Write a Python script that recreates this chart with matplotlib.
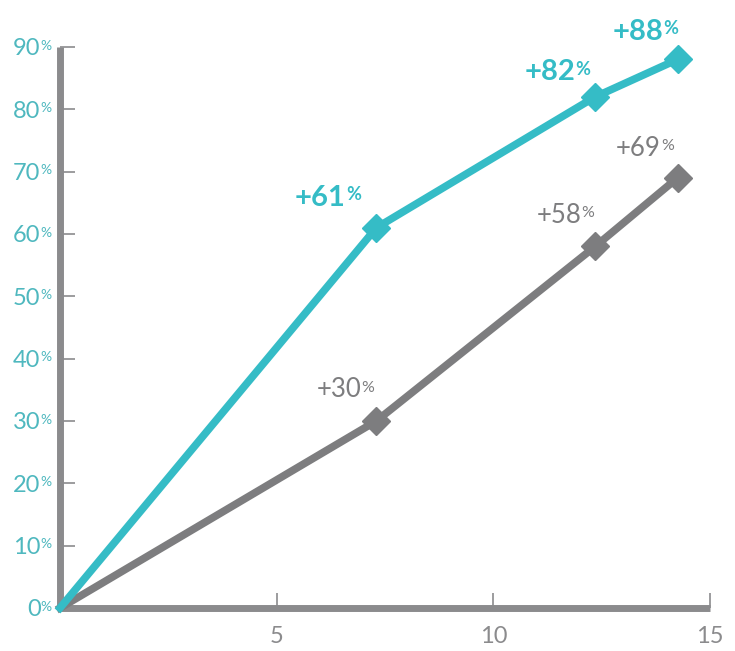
import matplotlib.pyplot as plt

# data
x_vals = [0, 7.3, 12.35, 14.25]
teal_vals = [0, 61, 82, 88]
gray_vals = [0, 30, 58, 69]
teal_labels = ["+61", "+82", "+88"]
gray_labels = ["+30", "+58", "+69"]
y_ticks = [0, 10, 20, 30, 40, 50, 60, 70, 80, 90]
x_ticks = [5, 10, 15]

TEAL = "#35bcc6"
GRAY = "#7d7d7f"
AXIS = "#8b8b8d"
LTEAL = "#4fb8bf"

FONT = "Lato"

fig = plt.figure(figsize=(7.35, 6.51), dpi=100)
ax = fig.add_axes([60 / 735, 43 / 651, 650 / 735, 561 / 651])
ax.set_xlim(0, 15)
ax.set_ylim(0, 90)

for s in ["top", "right"]:
    ax.spines[s].set_visible(False)
for s in ["left", "bottom"]:
    ax.spines[s].set_color(AXIS)
    ax.spines[s].set_linewidth(5)
    ax.spines[s].set_capstyle("butt")

ax.set_yticks(y_ticks)
ax.set_xticks(x_ticks)
ax.tick_params(axis="y", direction="in", length=11, width=1.2, color=AXIS,
               labelleft=False)
ax.tick_params(axis="x", direction="in", length=11, width=1.2, color=AXIS,
               labelbottom=False)

# y tick labels with small percent sign
ytr = ax.get_yaxis_transform()
for v in y_ticks:
    ax.annotate(str(v), (0, v), xycoords=ytr, xytext=(-14, -6),
                textcoords="offset points", ha="right", va="baseline",
                color=LTEAL, fontsize=17, family=FONT,
                annotation_clip=False)
    ax.annotate("%", (0, v), xycoords=ytr, xytext=(-14, -2),
                textcoords="offset points", ha="left", va="baseline",
                color=LTEAL, fontsize=10, family=FONT,
                annotation_clip=False)

# x tick labels
xtr = ax.get_xaxis_transform()
for v in x_ticks:
    ax.annotate(str(v), (v, 0), xycoords=xtr, xytext=(0, -25),
                textcoords="offset points", ha="center", va="baseline",
                color=AXIS, fontsize=17, family=FONT,
                annotation_clip=False)

ax.plot(x_vals, gray_vals, color=GRAY, lw=5.5, marker="D", ms=14,
        markevery=[1, 2, 3], solid_joinstyle="miter", clip_on=False,
        zorder=3)
ax.plot(x_vals, teal_vals, color=TEAL, lw=5.5, marker="D", ms=14,
        markevery=[1, 2, 3], solid_joinstyle="miter", clip_on=False,
        zorder=4)


def label(x, y, num, color, dx, dy, size, weight):
    ax.annotate(num, (x, y), xytext=(dx, dy), textcoords="offset points",
                ha="right", va="baseline", color=color, fontsize=size,
                family=FONT, fontweight=weight, annotation_clip=False)
    ax.annotate("%", (x, y), xytext=(dx, dy + 4), textcoords="offset points",
                ha="left", va="baseline", color=color, fontsize=size * 0.62,
                family=FONT, fontweight=weight, annotation_clip=False)


teal_off = [(-22, 16), (-14, 12), (-10, 14)]
gray_off = [(-11, 17), (-10, 17), (-12, 16)]
for i in range(3):
    label(x_vals[i + 1], teal_vals[i + 1], teal_labels[i], TEAL,
          teal_off[i][0], teal_off[i][1], 21, "bold")
    label(x_vals[i + 1], gray_vals[i + 1], gray_labels[i], GRAY,
          gray_off[i][0], gray_off[i][1], 18.5, "normal")

fig.savefig("out.png", dpi=100, facecolor="white")
